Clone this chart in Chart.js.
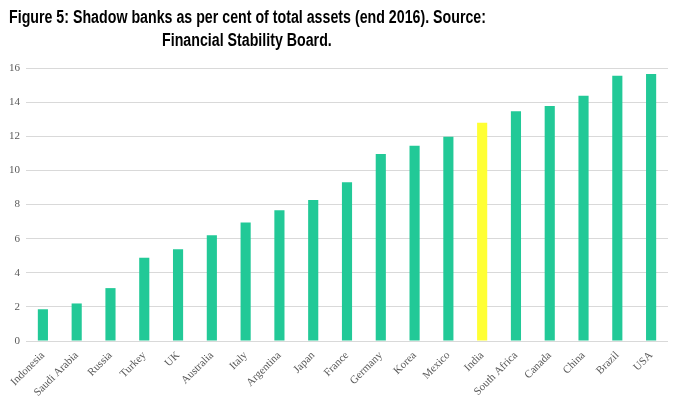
<!DOCTYPE html>
<html>
<head>
<meta charset="utf-8">
<script src="https://cdn.jsdelivr.net/npm/chart.js@4/dist/chart.umd.min.js"></script>
<style>
  html, body { margin: 0; padding: 0; background: #fff; }
  #wrap { position: relative; width: 673px; height: 396px; overflow: hidden; }
  .tl { position: absolute; white-space: nowrap;
    font-family: "Liberation Sans", Arial, sans-serif; font-weight: bold; font-size: 18px;
    line-height: 23px; color: #000; transform-origin: 0 50%; }
  canvas { position: absolute; left: 0; top: 0; }
</style>
</head>
<body>
<div id="wrap">
  <canvas id="c" width="673" height="396"></canvas>
  <span class="tl" id="t1">Figure 5: Shadow banks as per cent of total assets (end 2016). Source:</span>
  <span class="tl" id="t2">Financial Stability Board.</span>
</div>
<script>
const categories = ["Indonesia","Saudi Arabia","Russia","Turkey","UK","Australia","Italy","Argentina","Japan","France","Germany","Korea","Mexico","India","South Africa","Canada","China","Brazil","USA"];
const values = [1.86, 2.2, 3.1, 4.88, 5.37, 6.2, 6.94, 7.67, 8.26, 9.31, 10.96, 11.45, 11.97, 12.79, 13.47, 13.77, 14.37, 15.54, 15.65];
const highlight = "India";
const yTicks = [0, 2, 4, 6, 8, 10, 12, 14, 16];

// place title lines centred at x=247, squeezed to the reference width
(function(){
  const t1 = document.getElementById('t1'), t2 = document.getElementById('t2');
  const w1 = t1.getBoundingClientRect().width;
  const w2 = t2.getBoundingClientRect().width;
  const s = 477 / w1;
  const cx = 247;
  t1.style.transform = 'scaleX(' + s + ')';
  t2.style.transform = 'scaleX(' + s + ')';
  t1.style.left = (cx - w1 * s / 2) + 'px';
  t2.style.left = (cx - w2 * s / 2) + 'px';
  t1.style.top = '6px';
  t2.style.top = '29px';
})();

const colors = categories.map(c => c === highlight ? '#ffff33' : '#22c997');

new Chart(document.getElementById('c'), {
  type: 'bar',
  data: {
    labels: categories,
    datasets: [{
      data: values,
      backgroundColor: colors,
      borderWidth: 0,
      barPercentage: 0.3,
      categoryPercentage: 1.0
    }]
  },
  options: {
    responsive: false,
    animation: false,
    devicePixelRatio: 1,
    layout: { padding: { top: 68, left: 0, right: 5, bottom: 0 } },
    plugins: { legend: { display: false }, tooltip: { enabled: false }, title: { display: false } },
    scales: {
      x: {
        grid: { display: false },
        border: { display: false },
        afterFit: (axis) => { axis.height = 55; },
        ticks: {
          minRotation: 45, maxRotation: 45, autoSkip: false,
          color: '#595959', padding: 0,
          font: { family: '"Liberation Serif", "Times New Roman", serif', size: 11 }
        }
      },
      y: {
        min: 0, max: 16,
        afterBuildTicks: (axis) => { axis.ticks = yTicks.map(v => ({ value: v })); },
        afterFit: (axis) => { axis.width = 26; },
        grid: { color: '#d9d9d9', drawTicks: false, lineWidth: 1 },
        border: { display: false },
        ticks: {
          color: '#595959', padding: 6,
          font: { family: '"Liberation Serif", "Times New Roman", serif', size: 11 }
        }
      }
    }
  }
});
</script>
</body>
</html>
